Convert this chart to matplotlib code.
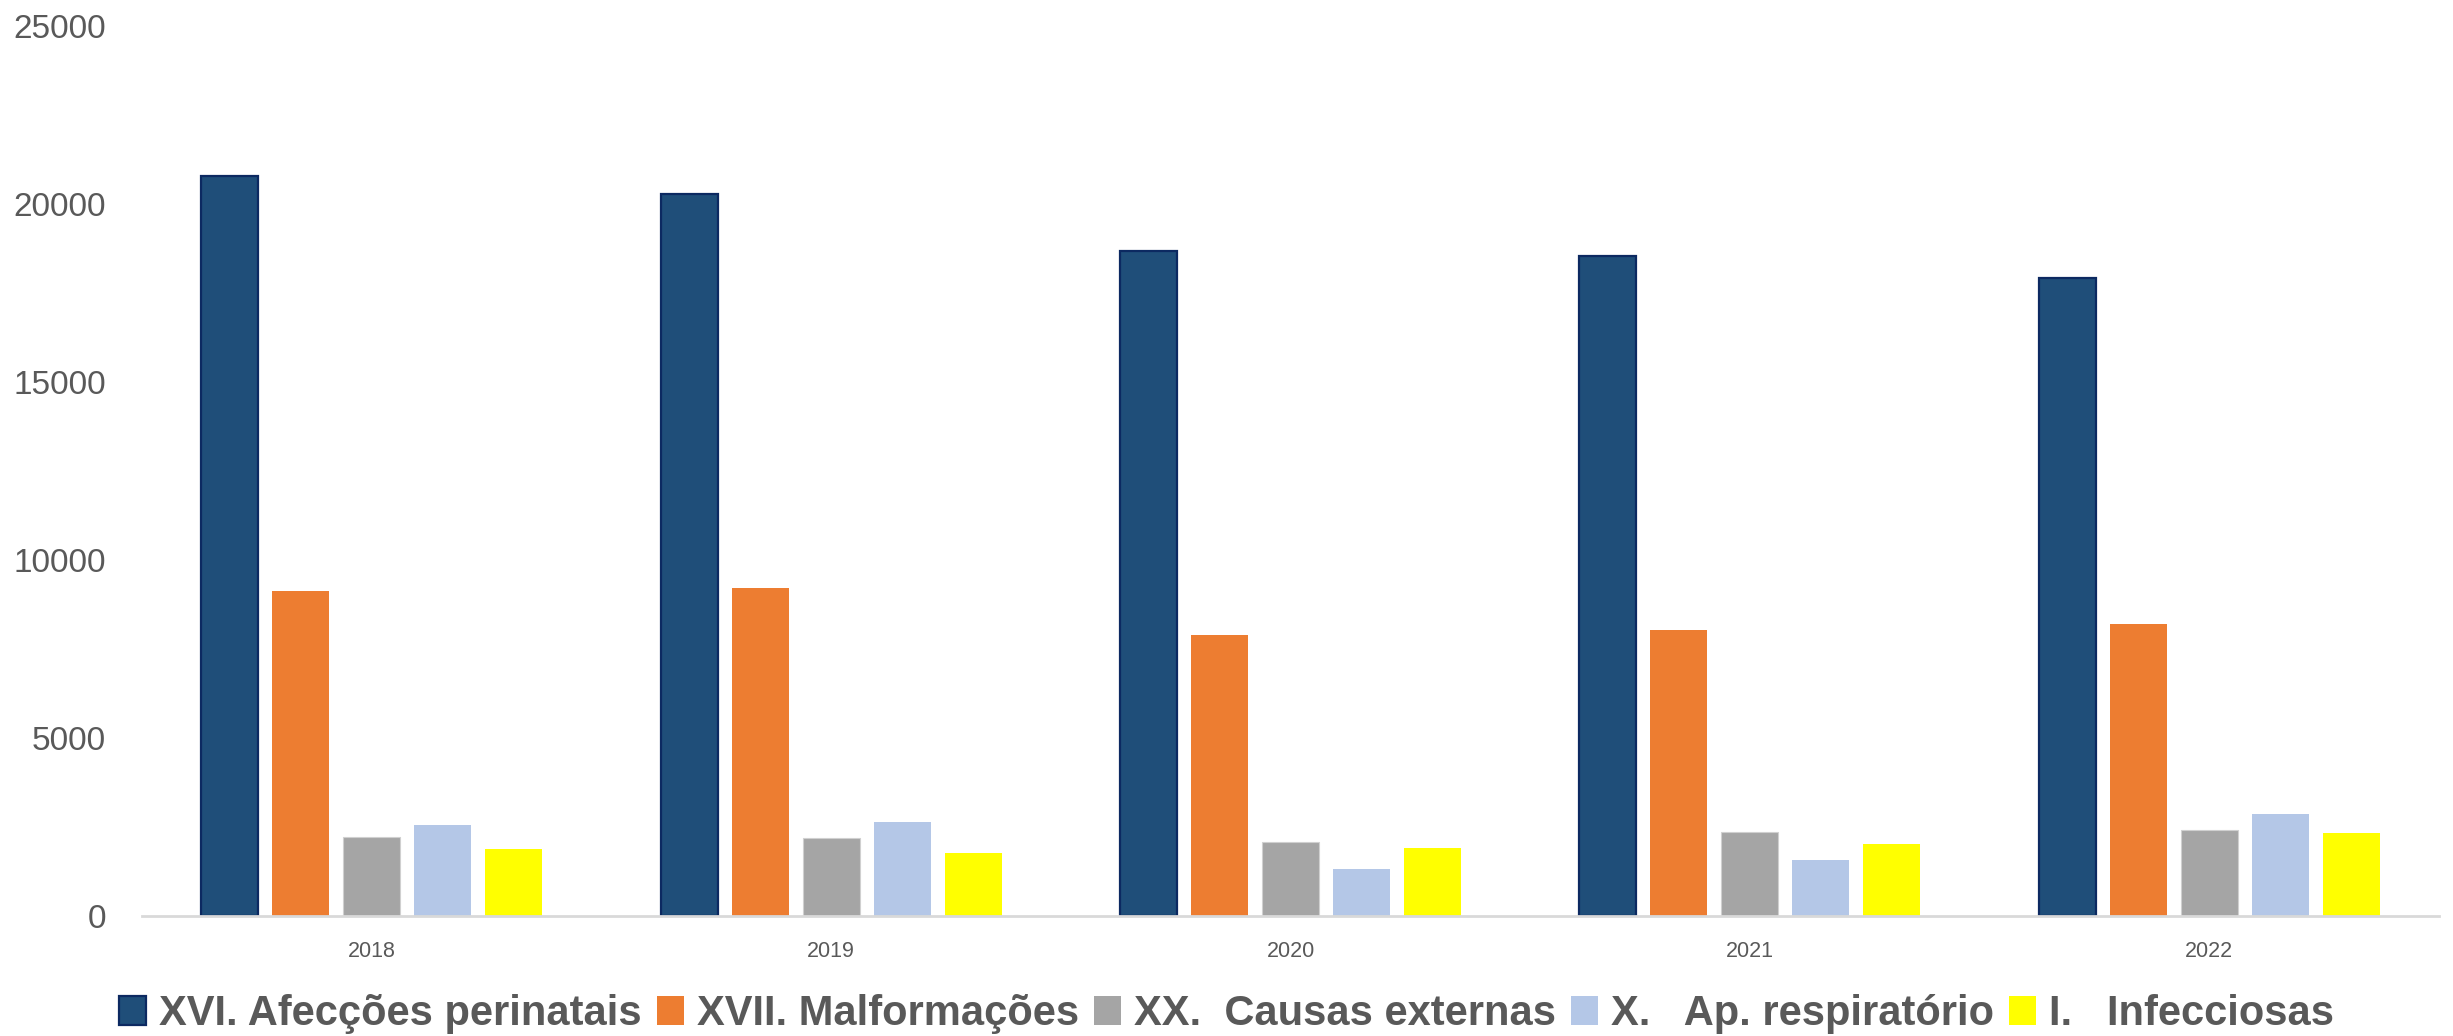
import numpy as np
import matplotlib
matplotlib.use("Agg")
import matplotlib.pyplot as plt
from matplotlib.patches import Patch

years = ["2018", "2019", "2020", "2021", "2022"]
series_names = [
    "XVI. Afecções perinatais",
    "XVII. Malformações",
    "XX.  Causas externas",
    "X.   Ap. respiratório",
    "I.   Infecciosas",
]
perinatais = [20790, 20280, 18690, 18540, 17910]
malformacoes = [9110, 9205, 7880, 8040, 8200]
causas_externas = [2220, 2190, 2070, 2340, 2410]
respiratorio = [2560, 2630, 1300, 1560, 2850]
infecciosas = [1870, 1750, 1890, 2010, 2310]
y_ticks = [0, 5000, 10000, 15000, 20000, 25000]

series_values = [perinatais, malformacoes, causas_externas, respiratorio, infecciosas]
fills = ["#1F4E79", "#ED7D31", "#A5A5A5", "#B4C7E7", "#FFFF00"]
edges = ["#0C2961", "#ED7D31", "#D0D0D0", "#B4C7E7", "#FFFF00"]
edge_w = [1.6, 0.0, 0.8, 0.0, 0.0]

text_color = "#595959"
plt.rcParams["font.family"] = ["Liberation Sans", "DejaVu Sans"]

fig = plt.figure(figsize=(24.53, 10.36), dpi=100)
ax = fig.add_axes([0.0579, 0.1162, 0.9364, 0.8587])

x = np.arange(len(years))
pitch = 0.1546
width = 0.124
for i, vals in enumerate(series_values):
    offs = (i - 2) * pitch
    ax.bar(x + offs, vals, width, color=fills[i], edgecolor=edges[i],
           linewidth=edge_w[i], zorder=2)

ax.set_xlim(-0.5, len(years) - 0.5)
ax.set_ylim(0, 25000)
ax.set_yticks(y_ticks)
ax.set_yticklabels([str(v) for v in y_ticks], fontsize=24, color=text_color)
ax.set_xticks(x)
ax.set_xticklabels(years, fontsize=15.5, color=text_color)
ax.tick_params(axis="both", length=0)
ax.tick_params(axis="y", pad=26)
ax.tick_params(axis="x", pad=18)

for s in ["top", "right", "left"]:
    ax.spines[s].set_visible(False)
ax.spines["bottom"].set_color("#D9D9D9")
ax.spines["bottom"].set_linewidth(2)
ax.spines["bottom"].set_zorder(3)

handles = [Patch(facecolor=fills[i], edgecolor=edges[i] if i == 0 else fills[i],
                 linewidth=1.6 if i == 0 else 0) for i in range(5)]
fig.legend(handles, series_names, loc="center", bbox_to_anchor=(0.5, 0.021),
           ncol=5, frameon=False,
           prop={"family": ["Liberation Sans", "DejaVu Sans"], "weight": "bold", "size": 30},
           labelcolor=text_color, handlelength=0.65, handleheight=0.7,
           handletextpad=0.3, columnspacing=0.37, borderpad=0, borderaxespad=0)

fig.savefig("out.png", dpi=100)
